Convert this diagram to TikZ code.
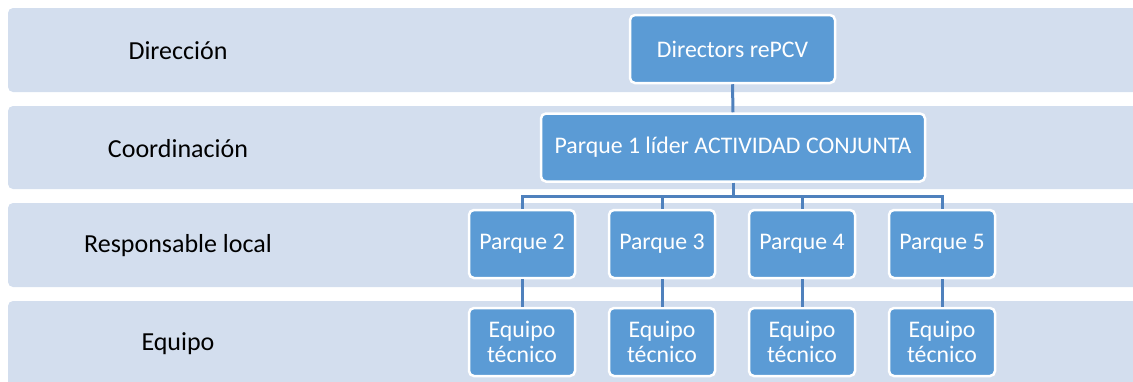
\documentclass[tikz,border=0pt]{standalone}
\usepackage{fontspec}
\setmainfont{Carlito}
\definecolor{bandfill}{HTML}{D3DEEE}
\definecolor{boxfill}{HTML}{5B9BD5}
\definecolor{linkcol}{HTML}{4F81BD}
\begin{document}
\begin{tikzpicture}[x=1pt,y=-1pt,
        band/.style={fill=bandfill,rounded corners=5pt},
        lab/.style={font=\fontsize{26}{30}\selectfont,text=black},
        box/.style={draw=white,line width=2.5pt,fill=boxfill,rounded corners=5pt,
            text=white,font=\fontsize{23.8}{25.5}\selectfont,align=center,
            inner sep=0pt,minimum height=68pt},
        link/.style={draw=linkcol,line width=3pt}]
\useasboundingbox (0,0) rectangle (1133,381);
\clip (0,0) rectangle (1133,381);

% bands
\foreach \t/\b in {8/92,106/189,203/287,301/395}
    \path[band] (8,\t) rectangle (1150,\b);

\node[lab] (ldir) at (178,51) {Dirección};
\node[lab] (lcoord) at (178,149) {Coordinación};
\node[lab] (lresp) at (178,246) {Responsable local};
\node[lab] (leq) at (178,344) {Equipo};

% chart
\node[box,minimum width=205pt] (dir) at (732.5,49) {Directors rePCV};
\node[box,minimum width=384pt] (coord) at (733,147.5) {Parque 1 líder ACTIVIDAD CONJUNTA};
\draw[link] (dir.south) -- (coord.north);

\foreach \i in {2,...,5}{
    \node[box,minimum width=106pt] (p\i) at ({522+140*(\i-2)},244) {Parque \i};
    \node[box,minimum width=106pt] (eq\i) at ({522+140*(\i-2)},342) {Equipo\\técnico};
    \draw[link] (coord.south) -- ++(0,14) -| (p\i.north);
    \draw[link] (p\i.south) -- (eq\i.north);
}
\end{tikzpicture}
\end{document}
